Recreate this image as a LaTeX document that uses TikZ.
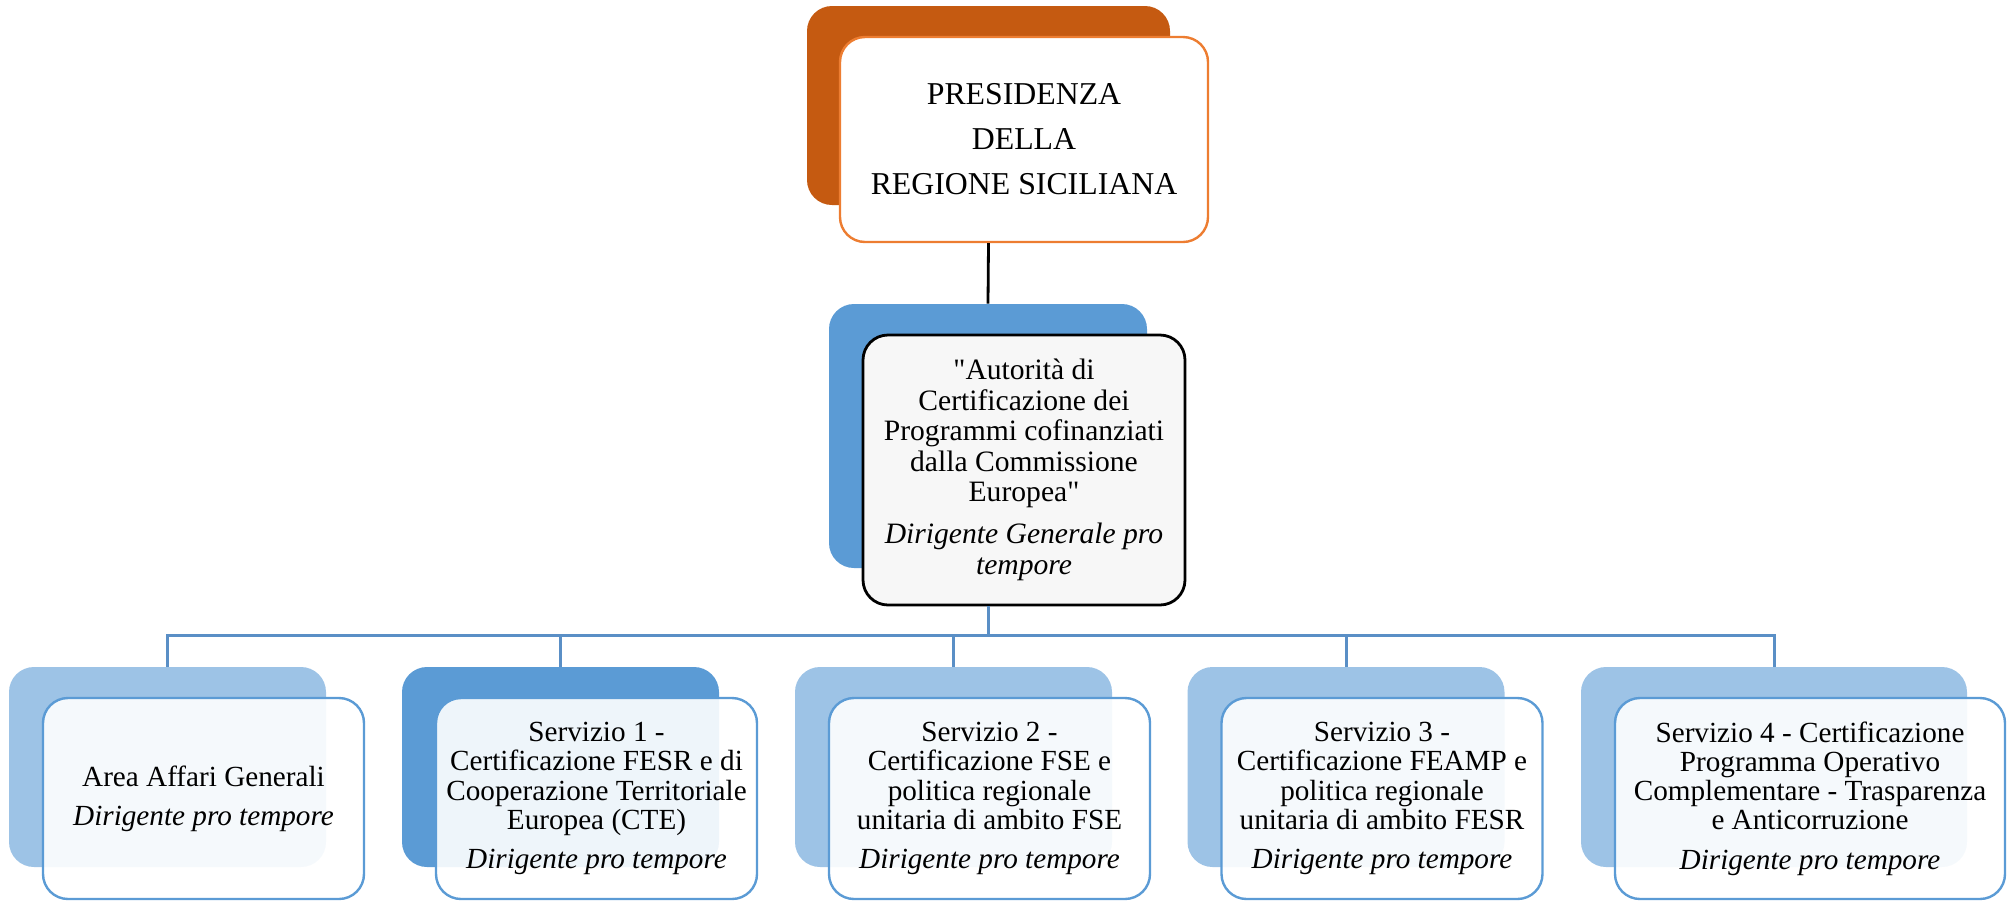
\documentclass[tikz,border=0pt]{standalone}
\usepackage{fontspec}
\setmainfont{Liberation Serif}[Ligatures=TeXOff]
\usepackage{tikz}
\usetikzlibrary{positioning}
\definecolor{orangeD}{HTML}{C55A11}
\definecolor{orangeL}{HTML}{ED7D31}
\definecolor{blueM}{HTML}{5B9BD5}
\definecolor{blueL}{HTML}{9DC3E6}
\definecolor{blueLine}{HTML}{5A8FC6}

\begin{document}
\begin{tikzpicture}[x=0.5pt,y=-0.5pt,
    backbox/.style={rounded corners=12.5pt, inner sep=0pt},
    frontbox/.style={rounded corners=12.5pt, align=center, inner sep=0pt},
    unit/.style={font=\fontsize{14.6}{14.6}\selectfont},
    link/.style={line width=1.5pt, draw=blueLine}]
    \useasboundingbox (0,0) rectangle (2009,901);

    % presidenza
    \node[backbox, fill=orangeD, minimum width=181.5pt, minimum height=99.5pt]
      (tb) at (988.5,105.5) {};
    \node[frontbox, draw=orangeL, line width=1.2pt, fill=white,
      minimum width=184pt, minimum height=102.5pt,
      font=\fontsize{15.9}{22.5}\selectfont]
      (t) at (1024,139.5) {PRESIDENZA\\DELLA\\REGIONE SICILIANA};

    % autorita di certificazione
    \node[backbox, fill=blueM, minimum width=159pt, minimum height=132pt]
      (mb) at (988,436) {};
    \draw[line width=1.4pt] (tb.south |- t.south) -- (mb.north);
    \node[frontbox, draw=black, line width=1.4pt, fill=white!97!black,
      minimum width=161pt, minimum height=135pt, font=\fontsize{14.8}{15.2}\selectfont]
      (m) at (1024,470)
      {"Autorità di\\Certificazione dei\\Programmi cofinanziati\\dalla Commissione\\Europea"\\[6pt]
       \itshape Dirigente Generale pro\\\itshape tempore};

    % servizi
    \foreach \n/\x/\w/\col/\txt in {
      s0/167.5/158.5/blueL/{Area Affari Generali},
      s1/560.5/158.5/blueM/{Servizio 1 -\\Certificazione FESR e di\\Cooperazione Territoriale\\Europea (CTE)},
      s2/953.5/158.5/blueL/{Servizio 2 -\\Certificazione FSE e\\politica regionale\\unitaria di ambito FSE},
      s3/1346/158.5/blueL/{Servizio 3 -\\Certificazione FEAMP e\\politica regionale\\unitaria di ambito FESR},
      s4/1774/193/blueL/{Servizio 4 - Certificazione\\Programma Operativo\\Complementare - Trasparenza\\e Anticorruzione}}
    {
      \node[backbox, fill=\col, minimum width=\w pt, minimum height=100pt]
        (\n b) at (\x,767) {};
      \draw[link] (mb.south |- m.south) -- ++(0,29) -| (\n b.north);
      \node[frontbox, unit, draw=blueM, line width=1.2pt, fill=white,
        fill opacity=0.9, text opacity=1,
        minimum width=\w pt+2pt, minimum height=100.5pt]
        (\n) at (\x+36,798.5) {\txt\\[5pt]\itshape Dirigente pro tempore};
    }
\end{tikzpicture}
\end{document}
